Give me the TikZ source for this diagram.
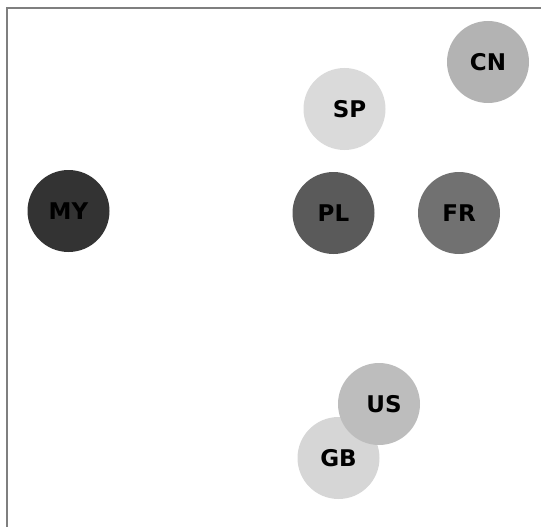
\documentclass[tikz,border=0pt]{standalone}
\usepackage{fontspec}
\setmainfont{DejaVu Sans}
\definecolor{cnfill}{HTML}{B3B3B3}
\definecolor{spfill}{HTML}{DADADA}
\definecolor{myfill}{HTML}{333333}
\definecolor{plfill}{HTML}{5A5A5A}
\definecolor{frfill}{HTML}{717171}
\definecolor{usfill}{HTML}{BDBDBD}
\definecolor{gbfill}{HTML}{D6D6D6}
\definecolor{frame}{HTML}{7F7F7F}

\begin{document}
\begin{tikzpicture}[x=1pt,y=-1pt]
		\tikzstyle{country}=[circle,minimum size=82pt,inner sep=0pt,font=\fontsize{23}{23}\selectfont\bfseries]
		\useasboundingbox (0,0) rectangle (541,527);
		\draw[frame,line width=2pt] (6.5,527) -- (6.5,8.5) -- (541,8.5);

		\node (cn) at (488,62) [country,fill=cnfill] {CN};
		\node (sp) at (344.5,109) [country,fill=spfill] {\hspace*{10pt}SP};
		\node (my) at (68.5,211) [country,fill=myfill] {MY};
		\node (pl) at (333.5,213) [country,fill=plfill] {PL};
		\node (fr) at (459,213) [country,fill=frfill] {FR};

		\node (gb) at (338.5,458) [country,fill=gbfill] {GB};
		\node (us) at (379,404) [country,fill=usfill] {\hspace*{10pt}US};
	\end{tikzpicture}
\end{document}
